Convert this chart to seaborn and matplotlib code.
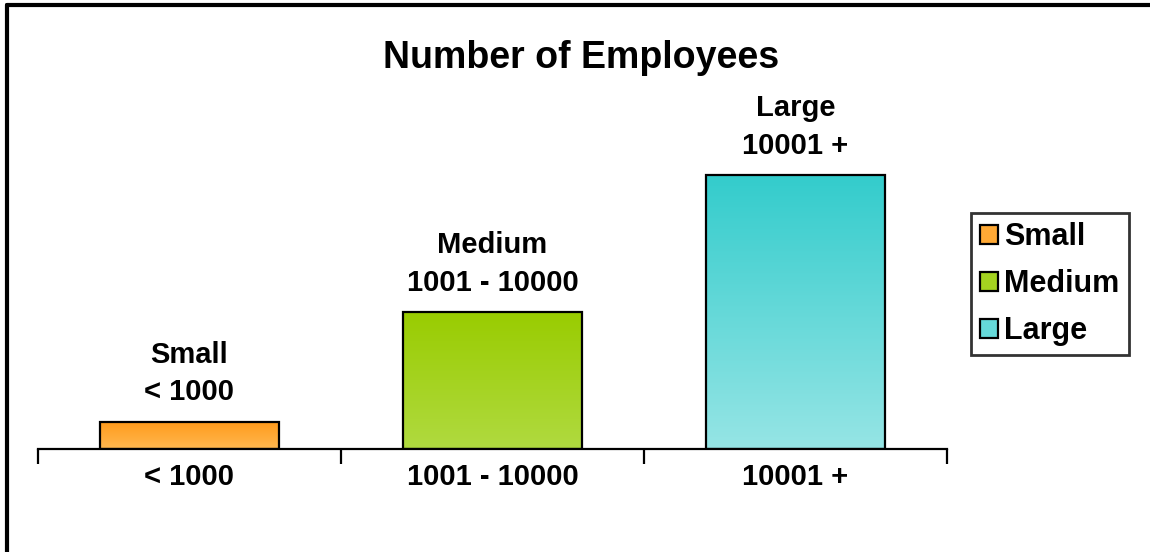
import numpy as np
import pandas as pd
import matplotlib
matplotlib.use("Agg")
import matplotlib.pyplot as plt
import matplotlib.colors as mcolors
from matplotlib.patches import Patch
from matplotlib.lines import Line2D
import seaborn as sns

# Chart data
categories = ["< 1000", "1001 - 10000", "10001 +"]
sizes = ["Small", "Medium", "Large"]
values = [1, 5, 10]
bar_labels = ["Small\n< 1000", "Medium\n1001 - 10000", "Large\n10001 +"]

# Gradient colours per bar: (top, bottom)
grad_top = ["#FF9A1A", "#99CC00", "#33CCCC"]
grad_bottom = ["#FFB850", "#B0DA40", "#96E5E5"]

sns.set_theme(style="white")
plt.rcParams["font.family"] = ["Liberation Sans", "DejaVu Sans"]
plt.rcParams["font.weight"] = "bold"
plt.rcParams["text.color"] = "black"

fig = plt.figure(figsize=(11.5, 5.52), dpi=100)
ax = fig.add_axes([38 / 1150, 1 - 449 / 552, (947 - 38) / 1150, 329 / 552])

df = pd.DataFrame({"category": categories, "size": sizes, "value": values})
sns.barplot(data=df, x="category", y="value", hue="size", dodge=False,
            width=0.59, palette=grad_top, edgecolor="black", linewidth=1.6,
            legend=False, ax=ax)

ax.set_xlim(-0.5, 2.5)
ax.set_ylim(0, 12)

# Vertical gradient fill clipped to each bar
for i, p in enumerate(ax.patches):
    x0, y0 = p.get_x(), p.get_y()
    w, h = p.get_width(), p.get_height()
    cmap = mcolors.LinearSegmentedColormap.from_list(
        f"g{i}", [grad_bottom[i], grad_top[i]])
    grad = np.linspace(0, 1, 256).reshape(-1, 1)
    im = ax.imshow(grad, cmap=cmap, origin="lower", aspect="auto",
                   extent=[x0, x0 + w, y0, y0 + h], zorder=1.5)
    im.set_clip_path(p)
    p.set_facecolor("none")
    p.set_zorder(2)

ax.set_xlim(-0.5, 2.5)
ax.set_ylim(0, 12)

# Labels above each bar
for i, (v, lab) in enumerate(zip(values, bar_labels)):
    ax.annotate(lab, (i, v), xytext=(0, 11), textcoords="offset points",
                ha="center", va="bottom", fontsize=21, fontweight="bold",
                linespacing=1.42, color="black")

# Axes styling: only the baseline with boundary ticks
for s in ["top", "right", "left"]:
    ax.spines[s].set_visible(False)
ax.spines["bottom"].set_color("black")
ax.spines["bottom"].set_linewidth(1.6)
ax.set_yticks([])
ax.set_xlabel("")
ax.set_ylabel("")
ax.set_xticks([0, 1, 2])
ax.set_xticklabels(categories, fontsize=21, fontweight="bold", color="black")
ax.set_xticks([-0.5, 0.5, 1.5, 2.5], minor=True)
ax.tick_params(axis="x", which="major", length=0, pad=10)
ax.tick_params(axis="x", which="minor", length=11, width=1.6,
               color="black", direction="out", bottom=True)

# Title
fig.text(0.505, 1 - 58 / 552, "Number of Employees", ha="center",
         va="center", fontsize=27, fontweight="bold", color="black")

# Legend
handles = [Patch(facecolor=mcolors.to_hex(np.mean([mcolors.to_rgb(t), mcolors.to_rgb(b)], axis=0)),
                 edgecolor="black", linewidth=1.6, label=s)
           for s, t, b in zip(sizes, grad_top, grad_bottom)]
leg = fig.legend(handles=handles, loc="center",
                 bbox_to_anchor=(1050 / 1150, 1 - 284 / 552),
                 fontsize=22, frameon=True, fancybox=False,
                 handlelength=0.58, handleheight=0.58, handletextpad=0.2,
                 labelspacing=0.55, borderpad=0.3, borderaxespad=0)
leg.get_frame().set_edgecolor("black")
leg.get_frame().set_linewidth(2)
for t in leg.get_texts():
    t.set_fontweight("bold")
    t.set_color("black")

# Outer frame lines on left and top
fig.add_artist(Line2D([7 / 1150, 7 / 1150], [0, 1 - 5 / 552],
                      transform=fig.transFigure, color="black", lw=3))
fig.add_artist(Line2D([7 / 1150, 1], [1 - 5 / 552, 1 - 5 / 552],
                      transform=fig.transFigure, color="black", lw=3))

fig.savefig("out.png", dpi=100, facecolor="white")
